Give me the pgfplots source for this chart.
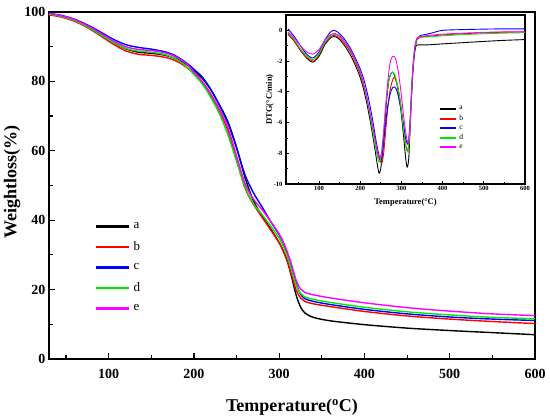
\documentclass[border=0pt]{standalone}
\usepackage{fontspec}
\setmainfont{Liberation Serif}
\usepackage{pgfplots}
\pgfplotsset{compat=1.18}
\definecolor{cgreen}{RGB}{0,235,0}
\definecolor{cmag}{RGB}{255,0,255}
\pgfplotsset{
  mleg/.style={legend image code/.code={\fill[#1] (0pt,-0.65pt) rectangle (31pt,0.65pt);}},
  ileg/.style={legend image code/.code={\fill[#1] (0pt,-0.45pt) rectangle (15pt,0.45pt);}},
}
\begin{document}
\begin{tikzpicture}
\useasboundingbox (-49pt,-61pt) rectangle (501pt,359pt);
\begin{axis}[
  at={(0pt,0pt)}, anchor=south west,
  scale only axis, width=486pt, height=347pt,
  xmin=30, xmax=600, ymin=0, ymax=100,
  xtick={100,200,...,600}, minor xtick={50,150,...,550},
  ytick={0,20,...,100}, minor ytick={10,30,...,90},
  tick align=inside, tick pos=left,
  major tick length=6pt, minor tick length=4pt,
  axis line style={line width=1.5pt},
  every tick/.style={line width=1.2pt, black},
  /pgf/number format/assume math mode=true,
  tick label style={font=\fontsize{14}{14}\selectfont\bfseries},
  xticklabel style={yshift=-7pt},
  xlabel={Temperature(\textsuperscript{o}C)},
  ylabel={Weightloss(\%)},
  label style={font=\fontsize{18}{18}\selectfont\bfseries},
  xlabel style={at={(axis description cs:0.5,-0.14)}, anchor=center},
  ylabel style={at={(axis description cs:-0.076,0.51)}, anchor=center},
  legend style={at={(axis description cs:0.097,0.398)}, anchor=north west, draw=none, fill=none,
    font=\fontsize{13}{13}\selectfont, row sep=8.5pt, column sep=3.5pt, inner sep=0pt, nodes={inner sep=1.5pt}},
  legend cell align=left,
  every axis plot/.append style={line width=1.4pt},
]
\addplot[black, smooth, tension=0.5, mleg=black] coordinates {(30,99.3)(45,98.7)(60,97.5)(75,95.8)(90,93.6)(105,91.3)(120,89.4)(135,88.4)(150,88.1)(165,87.6)(175,86.9)(185,85.8)(195,84.3)(200,83.2)(210,80.8)(220,77.5)(230,73.2)(240,68.3)(250,61)(260,52.2)(270,45.5)(280,41.2)(290,37.5)(300,33.5)(305,31)(310,27.8)(315,23.2)(320,18.3)(325,15)(330,13.3)(340,12)(360,11)(400,9.9)(450,8.9)(500,8.2)(550,7.6)(600,7.0)};
\addlegendentry{a}
\addplot[red, smooth, tension=0.5, mleg=red] coordinates {(30,99.2)(45,98.5)(60,97.3)(75,95.5)(90,93.2)(105,90.8)(120,88.8)(135,87.8)(150,87.5)(165,87.0)(175,86.3)(185,85.1)(195,83.4)(200,82.3)(210,79.6)(220,75.9)(230,71.4)(240,65.7)(250,57.4)(260,49.2)(270,44.5)(280,40.8)(290,37.2)(300,33.5)(305,31.0)(310,27.9)(315,23.8)(320,19.8)(325,17.6)(330,16.6)(340,15.9)(360,15.1)(400,13.7)(450,12.4)(500,11.5)(550,10.8)(600,10.2)};
\addlegendentry{b}
\addplot[blue, smooth, tension=0.5, mleg=blue] coordinates {(30,99.6)(45,99.0)(60,97.9)(75,96.3)(90,94.3)(105,92.2)(120,90.6)(135,89.8)(150,89.3)(165,88.6)(175,87.8)(185,86.4)(195,84.6)(200,83.5)(210,81.2)(220,77.6)(230,73)(240,67.8)(250,60.8)(260,53)(270,47.8)(280,43.8)(290,39.6)(300,35.8)(305,33.3)(310,30.0)(315,26.0)(320,21.6)(325,18.7)(330,17.4)(340,16.6)(360,15.7)(400,14.3)(450,13.0)(500,12.1)(550,11.5)(600,11.1)};
\addlegendentry{c}
\addplot[cgreen, smooth, tension=0.5, mleg=cgreen] coordinates {(30,99.4)(45,98.7)(60,97.5)(75,95.7)(90,93.5)(105,91.3)(120,89.5)(135,88.7)(150,88.4)(165,87.8)(175,86.9)(185,85.5)(195,83.4)(200,82)(210,79.2)(220,75.3)(230,70.6)(240,64.5)(250,57)(260,49.5)(270,44.7)(280,41.6)(290,38.3)(300,34.8)(305,32.4)(310,29.3)(315,25.3)(320,21.2)(325,18.9)(330,17.9)(340,17.2)(360,16.3)(400,14.9)(450,13.6)(500,12.7)(550,12.0)(600,11.6)};
\addlegendentry{d}
\addplot[cmag, smooth, tension=0.5, mleg=cmag] coordinates {(30,99.6)(45,98.9)(60,97.8)(75,96.1)(90,94.0)(105,91.8)(120,90.0)(135,89.2)(150,88.9)(165,88.3)(175,87.5)(185,86.2)(195,84.2)(200,82.6)(210,79.9)(220,76.3)(230,71.9)(240,66.5)(250,58.5)(260,50.5)(270,46)(280,43)(290,39.6)(300,36.0)(305,33.6)(310,30.5)(315,26.8)(320,22.6)(325,20.2)(330,19.2)(340,18.5)(360,17.6)(400,16.2)(450,14.8)(500,13.8)(550,13.0)(600,12.5)};
\addlegendentry{e}
\end{axis}
\begin{axis}[
  at={(237pt,175pt)}, anchor=south west,
  scale only axis, width=239pt, height=169pt,
  axis background/.style={fill=white},
  xmin=20, xmax=600, ymin=-10, ymax=1,
  xtick={100,200,...,600}, minor xtick={50,150,...,550},
  ytick={-10,-8,...,0}, minor ytick={-9,-7,...,-1},
  tick align=inside, tick pos=left,
  major tick length=3pt, minor tick length=2pt,
  axis line style={line width=1.1pt},
  every tick/.style={line width=0.8pt, black},
  /pgf/number format/assume math mode=true,
  tick label style={font=\fontsize{6.5}{6.5}\selectfont\bfseries},
  xticklabel style={yshift=1pt},
  xlabel={Temperature(\textdegree C)},
  ylabel={DTG(\textdegree C/min)},
  label style={font=\fontsize{8.5}{8.5}\selectfont\bfseries},
  xlabel style={at={(axis description cs:0.5,-0.11)}, anchor=center},
  ylabel style={at={(axis description cs:-0.068,0.5)}, anchor=center},
  legend style={at={(axis description cs:0.645,0.467)}, anchor=north west, draw=none, fill=none,
    font=\fontsize{7.5}{7.5}\selectfont, row sep=1.3pt, column sep=2pt, inner sep=0pt, nodes={inner sep=1.2pt}},
  legend cell align=left,
  every axis plot/.append style={line width=0.9pt},
]
\addplot[black, smooth, tension=0.45, ileg=black] coordinates {(25,-0.25)(40,-0.7)(55,-1.3)(70,-1.8)(85,-2.07)(100,-1.7)(115,-0.9)(130,-0.45)(140,-0.42)(150,-0.6)(165,-1.1)(180,-1.8)(195,-2.7)(205,-3.5)(215,-4.6)(225,-6.0)(235,-7.6)(242,-8.8)(246,-9.3)(250,-9.0)(255,-7.8)(260,-6.0)(265,-4.3)(270,-3.2)(275,-2.8)(278,-2.72)(283,-2.9)(290,-3.6)(298,-5.0)(305,-6.8)(310,-8.2)(314,-8.9)(318,-8.3)(322,-5.8)(326,-3.4)(330,-1.8)(335,-1.05)(340,-0.95)(360,-0.95)(400,-0.88)(450,-0.8)(500,-0.72)(550,-0.65)(600,-0.6)};
\addlegendentry{a}
\addplot[red, smooth, tension=0.45, ileg=red] coordinates {(25,-0.2)(40,-0.7)(55,-1.3)(70,-1.75)(87,-2.0)(100,-1.6)(115,-0.8)(130,-0.38)(140,-0.35)(150,-0.5)(165,-0.95)(180,-1.6)(195,-2.5)(205,-3.3)(215,-4.3)(225,-5.6)(235,-7.0)(243,-8.1)(252,-8.65)(257,-8.0)(262,-6.5)(268,-4.8)(274,-3.7)(280,-3.15)(284,-3.1)(290,-3.5)(298,-4.7)(305,-6.3)(311,-7.5)(316,-7.8)(320,-6.8)(324,-4.6)(328,-2.6)(333,-1.2)(338,-0.6)(345,-0.45)(370,-0.38)(400,-0.3)(450,-0.22)(500,-0.16)(550,-0.12)(600,-0.1)};
\addlegendentry{b}
\addplot[blue, smooth, tension=0.45, ileg=blue] coordinates {(25,0.1)(40,-0.4)(55,-1.0)(70,-1.55)(85,-1.8)(100,-1.4)(115,-0.6)(128,-0.1)(135,0.0)(145,-0.1)(160,-0.5)(175,-1.1)(190,-1.9)(200,-2.5)(210,-3.3)(220,-4.4)(230,-5.8)(240,-7.4)(249,-8.45)(254,-8.0)(260,-6.5)(266,-5.1)(273,-4.1)(279,-3.72)(284,-3.68)(290,-4.0)(298,-5.0)(305,-6.1)(311,-7.1)(316,-7.4)(320,-6.5)(324,-4.5)(328,-2.6)(333,-1.2)(338,-0.55)(345,-0.35)(370,-0.2)(400,0.0)(450,0.05)(500,0.08)(550,0.1)(600,0.1)};
\addlegendentry{c}
\addplot[cgreen, smooth, tension=0.45, ileg=cgreen] coordinates {(25,-0.15)(40,-0.6)(55,-1.2)(70,-1.65)(86,-1.9)(100,-1.5)(115,-0.75)(130,-0.3)(138,-0.25)(150,-0.4)(165,-0.85)(180,-1.5)(195,-2.4)(205,-3.2)(215,-4.3)(225,-5.7)(235,-7.3)(245,-8.55)(250,-8.3)(256,-6.8)(262,-4.9)(268,-3.5)(273,-2.9)(278,-2.72)(284,-2.9)(290,-3.5)(298,-4.8)(305,-6.4)(311,-7.6)(315,-7.9)(319,-7.2)(323,-5.0)(327,-2.8)(332,-1.2)(338,-0.55)(345,-0.45)(370,-0.42)(400,-0.35)(450,-0.28)(500,-0.22)(550,-0.18)(600,-0.15)};
\addlegendentry{d}
\addplot[cmag, smooth, tension=0.45, ileg=cmag] coordinates {(25,-0.1)(40,-0.5)(55,-1.0)(70,-1.4)(85,-1.55)(100,-1.25)(115,-0.6)(130,-0.25)(138,-0.2)(150,-0.35)(165,-0.8)(180,-1.45)(195,-2.35)(205,-3.1)(215,-4.2)(225,-5.5)(235,-6.9)(243,-8.0)(248,-8.3)(253,-7.8)(259,-6.0)(265,-3.9)(271,-2.4)(276,-1.8)(281,-1.68)(286,-1.85)(292,-2.6)(299,-4.0)(306,-5.7)(312,-6.9)(316,-7.3)(320,-6.5)(324,-4.4)(328,-2.4)(333,-1.0)(338,-0.5)(345,-0.4)(370,-0.32)(400,-0.25)(450,-0.18)(500,-0.13)(550,-0.1)(600,-0.1)};
\addlegendentry{e}
\end{axis}
\end{tikzpicture}
\end{document}
